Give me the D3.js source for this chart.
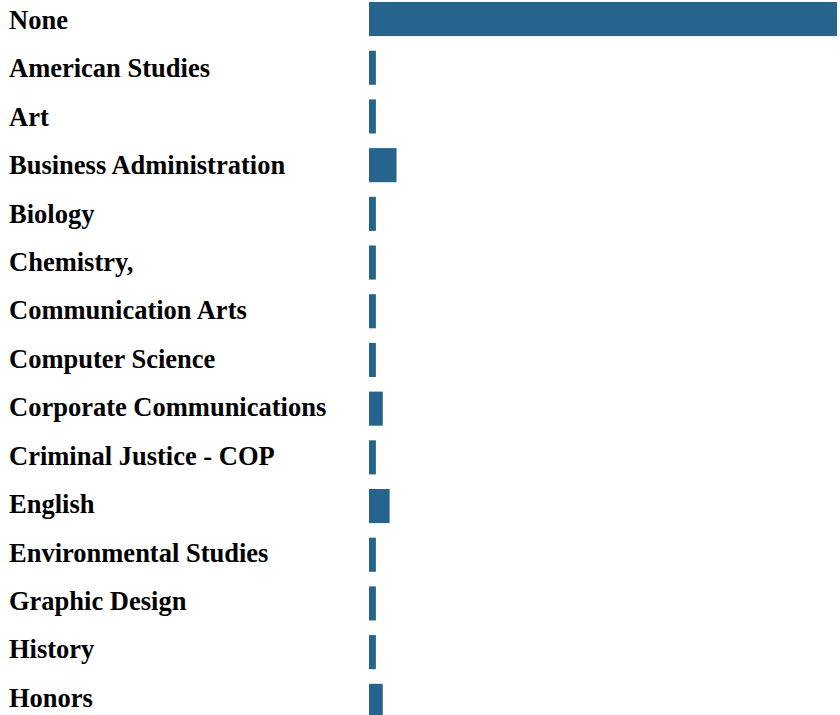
<!DOCTYPE html>
<html>
<head>
<meta charset="utf-8">
<script src="https://cdn.jsdelivr.net/npm/d3@7"></script>
<style>
  html, body { margin: 0; padding: 0; background: #fff; overflow: hidden; }
  svg { display: block; }
</style>
</head>
<body>
<svg id="chart" width="840" height="730"></svg>
<script>
// Majors and the count of students in each
const majors = [
  "None",
  "American Studies",
  "Art",
  "Business Administration",
  "Biology",
  "Chemistry,",
  "Communication Arts",
  "Computer Science",
  "Corporate Communications",
  "Criminal Justice - COP",
  "English",
  "Environmental Studies",
  "Graphic Design",
  "History",
  "Honors"
];
const counts = [68, 1, 1, 4, 1, 1, 1, 1, 2, 1, 3, 1, 1, 1, 2];

(function drawChart() {
  const svg = d3.select("#chart");
  const barLeft = 369, barRight = 837;
  const firstRow = 2, rowStep = 48.7, pad = 0.3;

  const x = d3.scaleLinear()
    .domain([0, d3.max(counts)])
    .range([barLeft, barRight]);

  const y = d3.scaleBand()
    .domain(majors)
    .range([firstRow, firstRow + rowStep * (majors.length - pad)])
    .paddingInner(pad)
    .paddingOuter(0);

  // label baselines run on their own slightly tighter rhythm
  const labelY = d3.scalePoint()
    .domain(majors)
    .range([28.8, 28.8 + 48.43 * (majors.length - 1)]);

  const rows = svg.selectAll("g.row")
    .data(majors.map((m, i) => ({ major: m, count: counts[i] })))
    .join("g")
    .attr("class", "row");

  rows.append("rect")
    .attr("x", x(0))
    .attr("y", d => y(d.major))
    .attr("width", d => x(d.count) - x(0))
    .attr("height", y.bandwidth())
    .attr("fill", "#26648e");

  rows.append("text")
    .attr("x", 9)
    .attr("y", d => labelY(d.major))
    .attr("font-family", "'Liberation Serif', 'Times New Roman', serif")
    .attr("font-weight", "bold")
    .attr("font-size", "26.5px")
    .attr("fill", "#000")
    .text(d => d.major);
})();
</script>
</body>
</html>
